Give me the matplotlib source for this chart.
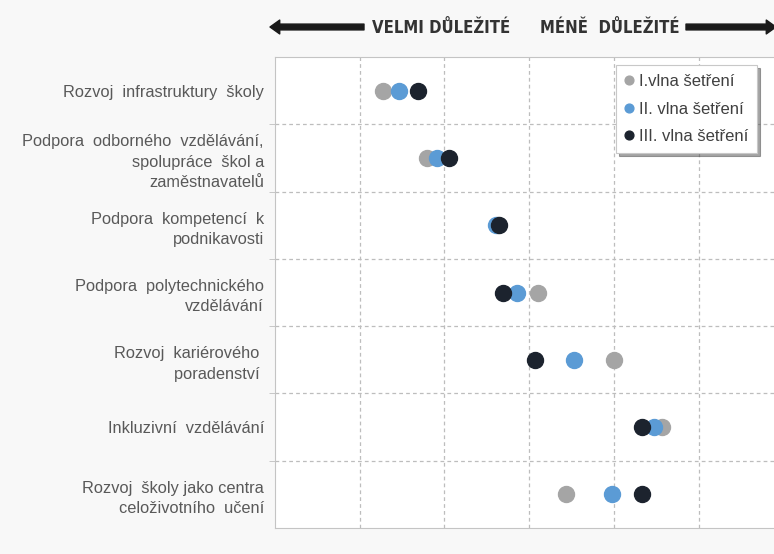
import matplotlib
matplotlib.use('Agg')
import matplotlib.pyplot as plt
import numpy as np

plt.rcParams['font.family'] = ['Liberation Sans', 'DejaVu Sans']

categories = [
    'Rozvoj  infrastruktury  školy',
    'Podpora  odborného  vzdělávání,\nspolupráce  škol a\nzaměstnavatelů',
    'Podpora  kompetencí  k\npodnikavosti',
    'Podpora  polytechnického\nvzdělávání',
    'Rozvoj  kariérového \nporadenství ',
    'Inkluzivní  vzdělávání',
    'Rozvoj  školy jako centra\nceloživotního  učení',
]
wave1 = [1.28, 1.80, 2.63, 3.10, 4.00, 4.57, 3.44]
wave2 = [1.46, 1.91, 2.61, 2.86, 3.53, 4.47, 3.98]
wave3 = [1.69, 2.05, 2.65, 2.69, 3.07, 4.33, 4.33]
series_names = ['I.vlna šetření', 'II. vlna šetření', 'III. vlna šetření']
colors = ['#a5a5a5', '#5b9bd5', '#1c232e']

fig = plt.figure(figsize=(7.74, 5.54), dpi=100, facecolor='#f8f8f8')
ax = fig.add_axes([275/774, 26/554, 499/774, 471/554])
ax.set_facecolor('white')

y = np.arange(len(categories))
for vals, name, c in zip([wave1, wave2, wave3], series_names, colors):
    ax.plot(vals, y, 'o', color=c, markersize=11.5, label=name, zorder=3)

ax.set_xlim(0, 499/84.7)
ax.set_ylim(len(categories) - 0.5, -0.5)

ax.set_xticks([1, 2, 3, 4, 5])
ax.set_xticklabels([])
ax.tick_params(axis='x', length=0)
ax.set_yticks(y)
ax.set_yticklabels(categories, fontsize=11.75, color='#595959', linespacing=1.45, ha='right')
ax.tick_params(axis='y', which='major', length=0, pad=8)
ax.set_yticks(np.arange(0.5, len(categories) - 0.5, 1), minor=True)
ax.tick_params(axis='y', which='minor', length=4, color='#bfbfbf', direction='out')

ax.grid(True, axis='x', color='#bdbdbd', linestyle=(0, (3, 2.5)), linewidth=0.9)
ax.grid(True, axis='y', which='minor', color='#bdbdbd', linestyle=(0, (3, 2.5)), linewidth=0.9)
ax.set_axisbelow(True)

for side in ['left', 'bottom', 'top']:
    ax.spines[side].set_color('#c4c4c4')
ax.spines['right'].set_visible(False)

leg = ax.legend(loc='upper right', bbox_to_anchor=(0.966, 0.983), fontsize=12,
                markerscale=0.55, handlelength=0.5, handletextpad=0.3,
                labelspacing=0.75, borderpad=0.55, borderaxespad=0, frameon=True,
                fancybox=False, shadow=True, labelcolor='#404040')
leg.get_frame().set_edgecolor('#c8c8c8')
leg.get_frame().set_linewidth(0.8)

# direction arrows and captions above the plot
arrow_kw = dict(arrowstyle='simple,head_length=0.7,head_width=1.0,tail_width=0.42',
                color='#1a1a1a', shrinkA=0, shrinkB=0)
ax.annotate('', xy=(270, 527), xycoords='figure pixels',
            xytext=(364, 527), textcoords='figure pixels', arrowprops=arrow_kw)
ax.annotate('', xy=(776, 527), xycoords='figure pixels',
            xytext=(686, 527), textcoords='figure pixels', arrowprops=arrow_kw)
fig.text(372/774, 526/554, 'VELMI DŮLEŽITÉ', fontsize=12, fontweight='bold',
         fontstretch='condensed', family='DejaVu Sans', color='#333333',
         va='center', ha='left')
fig.text(680/774, 526/554, 'MÉNĚ  DŮLEŽITÉ', fontsize=12, fontweight='bold',
         fontstretch='condensed', family='DejaVu Sans', color='#333333',
         va='center', ha='right')

fig.savefig('out.png', dpi=100, facecolor=fig.get_facecolor())
